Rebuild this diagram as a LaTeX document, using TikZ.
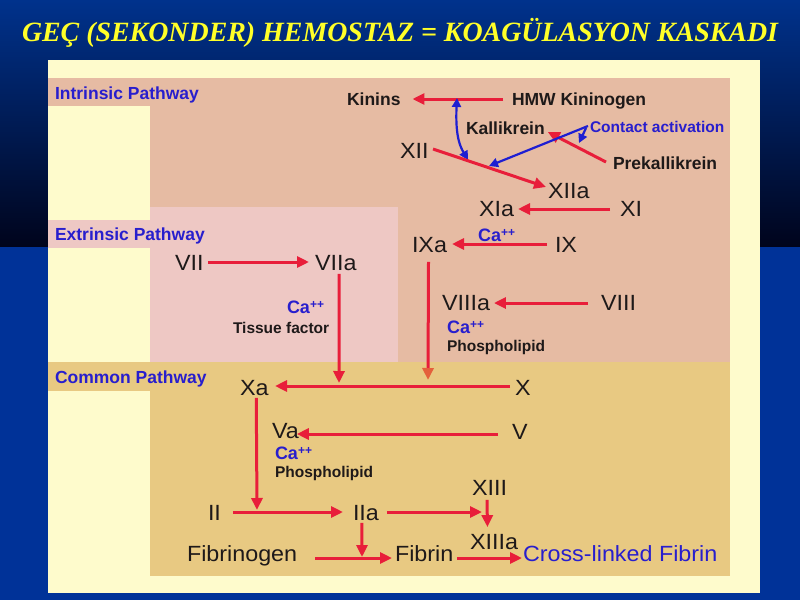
\documentclass[tikz,border=0pt]{standalone}
\usepackage{fontspec}
\usepackage{graphicx}
\setmainfont{Liberation Sans}
\newfontfamily\titlefont{Liberation Serif}
\newfontfamily\widefont[FakeStretch=1.06]{Liberation Sans}
\usetikzlibrary{arrows.meta,calc}
\definecolor{bgtop}{RGB}{0,50,140}
\definecolor{bgbot}{RGB}{0,4,28}
\definecolor{bgblue}{RGB}{0,50,152}
\definecolor{cream}{RGB}{254,251,204}
\definecolor{salmon}{RGB}{230,187,163}
\definecolor{pinkr}{RGB}{238,200,196}
\definecolor{tanc}{RGB}{232,201,130}
\definecolor{redc}{RGB}{232,30,58}
\definecolor{orangec}{RGB}{228,96,60}
\definecolor{bluet}{RGB}{40,30,205}
\definecolor{bluea}{RGB}{30,30,210}
\definecolor{txt}{RGB}{30,25,25}
\definecolor{ttl}{RGB}{255,255,40}
\newcommand{\capp}{Ca\raisebox{5pt}{\fontsize{12}{12}\selectfont ++}}
\begin{document}
\begin{tikzpicture}[x=1pt,y=-1pt,
  every node/.style={inner sep=0pt, outer sep=0pt, anchor=west, text depth=0pt},
  big/.style={font=\widefont\fontsize{22}{24}\selectfont, text=txt, text height=15.8pt},
  bld/.style={font=\fontsize{17.5}{19}\selectfont\bfseries, text=txt, text height=12.5pt},
  sml/.style={font=\fontsize{15.5}{17}\selectfont\bfseries, text=txt, text height=11.1pt},
  plab/.style={font=\fontsize{17.5}{19}\selectfont\bfseries, text=bluet, text height=12.5pt},
  ca/.style={font=\fontsize{18}{19}\selectfont\bfseries, text=bluet, text height=12.9pt},
  ra/.style={draw=redc, line width=3pt, -{Triangle[length=12pt,width=11pt]}},
  ba/.style={draw=bluea, line width=2.2pt, -{Triangle[length=9pt,width=9pt]}},
  bd/.style={draw=bluea, line width=2.2pt, {Triangle[length=9pt,width=9pt]}-{Triangle[length=9pt,width=9pt]}}
]
\useasboundingbox (0,0) rectangle (800,600);
% background
\fill[top color=bgtop, bottom color=bgbot] (0,0) rectangle (800,247);
\fill[bgblue] (0,247) rectangle (800,600);
\fill[cream] (48,60) rectangle (760,593);
\fill[salmon] (150,78) rectangle (730,362);
\fill[salmon] (48,78) rectangle (150,106);
\fill[pinkr] (150,207) rectangle (398,362);
\fill[pinkr] (48,220) rectangle (150,248);
\fill[tanc] (150,362) rectangle (730,576);
\fill[tanc] (48,362) rectangle (150,391);
% title
\node[anchor=base west, text=ttl] (title) at (22,41) {\resizebox{756pt}{!}{\titlefont\bfseries\itshape GEÇ (SEKONDER) HEMOSTAZ = KOAGÜLASYON KASKADI}};
% intrinsic
\node[plab] (ilab) at (55,93) {Intrinsic Pathway};
\node[bld] (kinins) at (347,99) {Kinins};
\node[bld] (hmw) at (512,99) {HMW Kininogen};
\node[bld] (kall) at (466,128) {Kallikrein};
\node[font=\fontsize{15.5}{17}\selectfont\bfseries, text=bluet, text height=11.1pt] (contact) at (590,127) {Contact activation};
\node[big] (xii) at (400,151) {XII};
\node[big] (xiia) at (548,191) {XIIa};
\node[bld] (prek) at (613,163) {Prekallikrein};
\node[big] (xia) at (479,209) {XIa};
\node[big] (xi) at (620,209) {XI};
\node[big] (ixa) at (412,245) {IXa};
\node[big] (ix) at (555,245) {IX};
\node[ca] (ca1) at (478,235) {\capp};
\node[big] (viiia) at (442,303) {VIIIa};
\node[big] (viii) at (601,303) {VIII};
\node[ca] (ca2) at (447,327) {\capp};
\node[sml] (ph1) at (447,346) {Phospholipid};
% extrinsic
\node[plab] (elab) at (55,234) {Extrinsic Pathway};
\node[big] (vii) at (175,263) {VII};
\node[big] (viia) at (315,263) {VIIa};
\node[ca] (ca3) at (287,307) {\capp};
\node[sml] (tf) at (233,328) {Tissue factor};
% common
\node[plab] (clab) at (55,377) {Common Pathway};
\node[big] (xa) at (240,388) {Xa};
\node[big] (x) at (515,388) {X};
\node[big] (va) at (272,431) {Va};
\node[big] (v) at (512,432) {V};
\node[ca] (ca4) at (275,453) {\capp};
\node[sml] (ph2) at (275,472) {Phospholipid};
\node[big] (ii) at (208,513) {II};
\node[big] (iia) at (353,513) {IIa};
\node[big] (xiii) at (472,488) {XIII};
\node[big] (xiiia) at (470,542) {XIIIa};
\node[big] (fgen) at (187,554) {Fibrinogen};
\node[big] (fib) at (395,554) {Fibrin};
\node[big, text=bluet] (cross) at (523,554) {Cross-linked Fibrin};
% junction coordinates
\coordinate (j1) at (457,98);
\coordinate (j2) at (468,160);
\coordinate (j3) at (489,166);
\coordinate (j9) at (579,143);
\coordinate (j5) at (428,380);
\coordinate (j4) at (339,383);
\coordinate (j6) at (257,510);
\coordinate (j7) at (482,512);
\coordinate (j8) at (362,557);
% connectors intrinsic
\draw[ra] ($(hmw.west)+(-9,0)$) -- ($(kinins.east)+(12,0)$);
\draw[bd] (j1) .. controls (455,138) and (461,148) .. (j2);
\draw[ra] ($(xii.east)+(4.5,-2)$) -- ($(xiia.west)+(-2,-4)$);
\draw[ra] ($(prek.west)+(-7,-1)$) -- ($(kall.east)+(3,4)$);
\draw[ba] ($(contact.west)+(-2,-1)$) -- (j3);
\draw[ba] ($(contact.west)+(-4,1)$) -- (j9);
\draw[ra] ($(xi.west)+(-10,0)$) -- ($(xia.east)+(4,0)$);
\draw[ra] ($(ix.west)+(-8,-1)$) -- ($(ixa.east)+(5,-1)$);
\draw[draw=redc, line width=3pt, -{Triangle[length=12pt,width=11pt,color=orangec]}] ($(ixa.south)+(-1,9)$) -- (j5);
\draw[ra] ($(viii.west)+(-13,0)$) -- ($(viiia.east)+(4,0)$);
% extrinsic
\draw[ra] ($(vii.east)+(4.5,-1)$) -- ($(viia.west)+(-6,-1)$);
\draw[ra] ($(viia.south)+(3.5,3)$) -- (j4);
% common
\draw[ra] ($(x.west)+(-5,-2)$) -- ($(xa.east)+(6.5,-2)$);
\draw[ra] ($(v.west)+(-14,2)$) -- ($(va.east)+(-2,3)$);
\draw[ra] ($(xa.south)+(2,2)$) -- (j6);
\draw[ra] ($(ii.east)+(12,-1)$) -- ($(iia.west)+(-10,-1)$);
\draw[ra] ($(iia.east)+(8,-1)$) -- (j7);
\draw[ra] ($(xiii.south)+(-2.5,4)$) -- ($(xiiia.north)+(-6.5,-7)$);
\draw[ra] ($(iia.south)+(-4,2)$) -- (j8);
\draw[ra] ($(fgen.east)+(18,4)$) -- ($(fib.west)+(-3,4)$);
\draw[ra] ($(fib.east)+(4,4)$) -- ($(cross.west)+(-1,4)$);
\end{tikzpicture}
\end{document}
